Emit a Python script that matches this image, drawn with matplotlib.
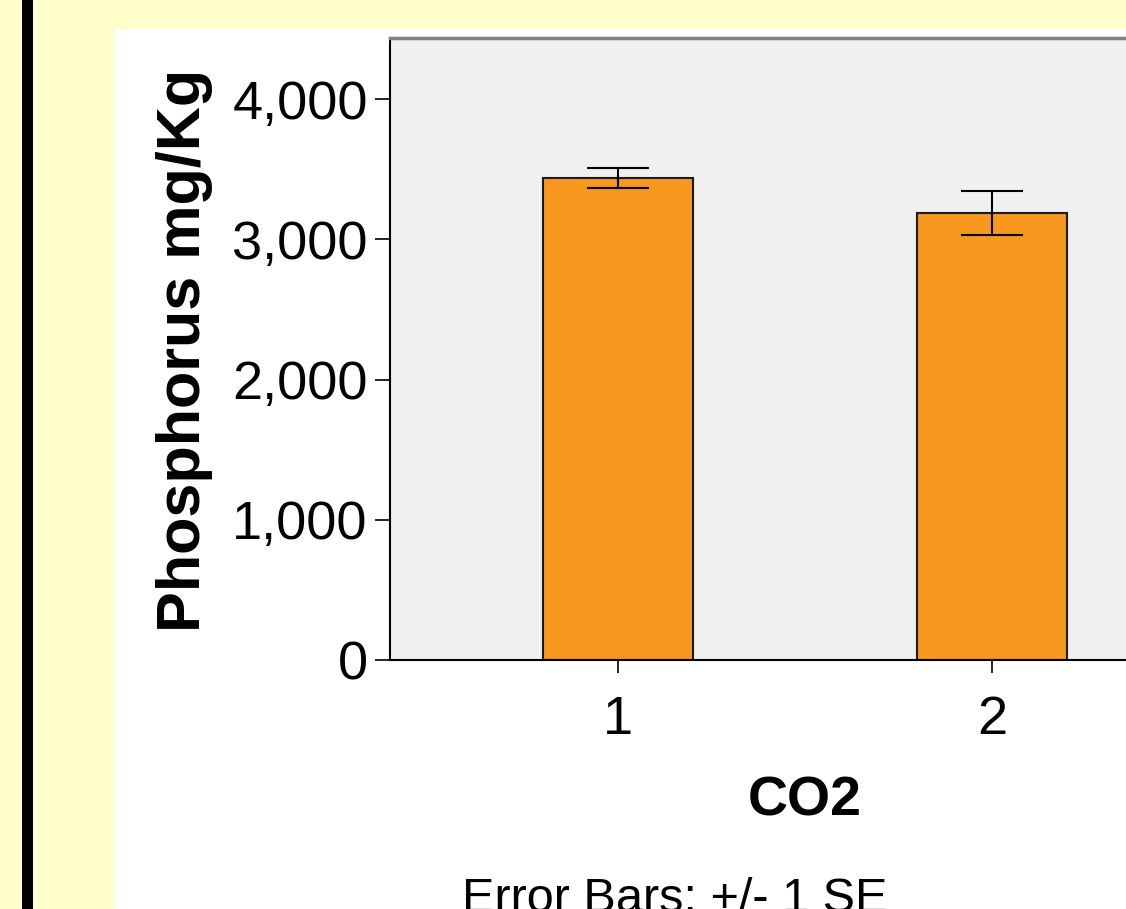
import matplotlib.pyplot as plt
from matplotlib.patches import Rectangle
from matplotlib.ticker import FuncFormatter

# data
groups = ['1', '2']
means = [3435, 3189]
se = [70, 157]

plt.rcParams['font.family'] = ['Liberation Sans', 'DejaVu Sans']

fig = plt.figure(figsize=(11.26, 9.09), dpi=100)
fig.patch.set_facecolor('#ffffcc')

# black bar on the left and white panel behind the chart
fig.patches.append(Rectangle((22 / 1126, 0), 11 / 1126, 1, transform=fig.transFigure,
                             facecolor='black', edgecolor='none', zorder=-10))
fig.patches.append(Rectangle((115 / 1126, 0), 1, (909 - 29) / 909, transform=fig.transFigure,
                             facecolor='white', edgecolor='none', zorder=-10))

ax = fig.add_axes([390 / 1126, (909 - 660) / 909, 830 / 1126, 622 / 909])
ax.set_facecolor('#f0f0f0')

x = list(range(1, len(groups) + 1))
ax.bar(x, means, width=0.4, color='#f8971d', edgecolor='#1a1a1a', linewidth=1.5, zorder=2)
ax.errorbar(x, means, yerr=se, fmt='none', ecolor='black', elinewidth=1.5,
            capsize=22, capthick=1.5, zorder=3)

ax.set_xlim(0.392, 2.608)
ax.set_ylim(0, 4435)
ax.set_xticks(x)
ax.set_xticklabels(groups)
ax.set_yticks([0, 1000, 2000, 3000, 4000])
ax.yaxis.set_major_formatter(FuncFormatter(lambda v, p: f'{int(v):,}'))
ax.tick_params(axis='y', length=11, width=1.2, pad=5, labelsize=39)
ax.tick_params(axis='x', length=9, width=1.2, pad=16, labelsize=39)

ax.spines['left'].set_color('black')
ax.spines['bottom'].set_color('black')
ax.spines['left'].set_linewidth(1.5)
ax.spines['bottom'].set_linewidth(1.5)
ax.spines['top'].set_color('#808080')
ax.spines['top'].set_linewidth(2.5)
ax.spines['right'].set_color('#808080')

fig.text(185 / 1126, (909 - 350) / 909, 'Phosphorus mg/Kg', rotation=90,
         ha='center', va='center', fontsize=44, fontweight='bold')
fig.text(805 / 1126, (909 - 802) / 909, 'CO2', ha='center', va='center',
         fontsize=40, fontweight='bold')
fig.text(675 / 1126, (909 - 877) / 909, 'Error Bars: +/- 1 SE', ha='center', va='top',
         fontsize=35)

fig.savefig('out.png', dpi=100, facecolor=fig.get_facecolor())
